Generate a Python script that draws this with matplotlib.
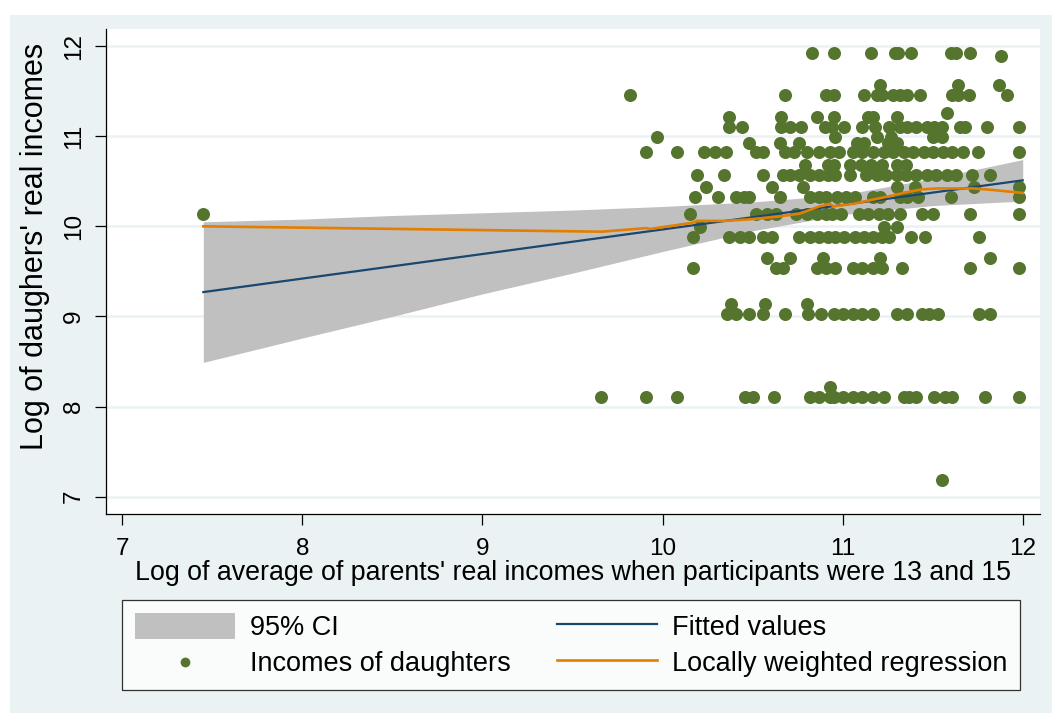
import numpy as np
import matplotlib.pyplot as plt
from matplotlib.patches import Rectangle

plt.rcParams['font.family'] = ['Liberation Sans', 'DejaVu Sans']

# kolory w stylu Stata s2color
TLO = '#EAF2F3'
ZIELONY = '#55752F'
GRANAT = '#1A476F'
POMARANCZ = '#E37E00'
SZARY = '#C0C0C0'

# --- dane: dochody córek, pogrupowane po poziomach osi y ---
poziomy_y = [11.92, 11.89, 11.57, 11.46, 11.26, 11.21, 11.10, 10.99, 10.92, 10.82,
             10.68, 10.57, 10.44, 10.33, 10.14, 9.99, 9.88, 9.65, 9.54, 9.14,
             9.03, 8.22, 8.11, 7.19]

x_1192 = [10.83, 10.95, 11.16, 11.29, 11.31, 11.38, 11.60, 11.63, 11.71]
x_1189 = [11.88]
x_1157 = [11.21, 11.64, 11.87]
x_1146 = [9.82, 10.68, 10.91, 10.95, 11.12, 11.19, 11.22, 11.28, 11.32, 11.36,
          11.43, 11.61, 11.64, 11.70, 11.91]
x_1126 = [11.58]
x_1121 = [10.37, 10.66, 10.86, 10.95, 11.14, 11.17, 11.30]
x_1110 = [10.37, 10.44, 10.66, 10.71, 10.77, 10.90, 10.94, 11.01, 11.11, 11.18,
          11.26, 11.32, 11.36, 11.41, 11.47, 11.51, 11.55, 11.65, 11.68, 11.80, 11.98]
x_1099 = [9.97, 10.96, 11.19, 11.27, 11.50, 11.55]
x_1092 = [10.48, 10.65, 10.76, 11.08, 11.12, 11.25, 11.30]
x_1082 = [9.91, 10.08, 10.23, 10.29, 10.35, 10.52, 10.56, 10.68, 10.73, 10.80,
          10.87, 10.93, 10.98, 11.06, 11.11, 11.17, 11.23, 11.28, 11.34, 11.39,
          11.45, 11.50, 11.56, 11.61, 11.67, 11.75, 11.98]
x_1068 = [10.79, 10.92, 10.95, 11.04, 11.10, 11.16, 11.22, 11.30, 11.35]
x_1057 = [10.19, 10.34, 10.56, 10.67, 10.71, 10.76, 10.82, 10.87, 10.92, 10.96,
          11.04, 11.13, 11.19, 11.24, 11.30, 11.35, 11.41, 11.47, 11.52, 11.58,
          11.63, 11.72, 11.82]
x_1044 = [10.24, 10.61, 10.78, 11.30, 11.40, 11.73, 11.98]
x_1033 = [10.18, 10.31, 10.41, 10.45, 10.48, 10.65, 10.82, 10.87, 10.91, 10.97,
          11.02, 11.07, 11.17, 11.21, 11.32, 11.36, 11.42, 11.60, 11.98]
x_1014 = [7.45, 10.15, 10.52, 10.58, 10.63, 10.74, 10.80, 10.86, 10.91, 10.94,
          10.99, 11.09, 11.14, 11.20, 11.25, 11.32, 11.44, 11.50, 11.71, 11.98]
x_999 = [10.21, 11.23, 11.30]
x_988 = [10.17, 10.37, 10.43, 10.48, 10.56, 10.61, 10.76, 10.82, 10.87, 10.92,
         10.96, 11.01, 11.07, 11.12, 11.17, 11.22, 11.26, 11.38, 11.46, 11.76]
x_965 = [10.58, 10.71, 10.89, 11.21, 11.82]
x_954 = [10.17, 10.63, 10.67, 10.86, 10.91, 10.96, 11.06, 11.11, 11.17, 11.22,
         11.33, 11.71, 11.98]
x_914 = [10.38, 10.57, 10.80]
x_903 = [10.36, 10.41, 10.48, 10.56, 10.68, 10.81, 10.88, 10.95, 11.00, 11.06,
         11.11, 11.17, 11.30, 11.36, 11.44, 11.48, 11.53, 11.76, 11.82]
x_822 = [10.93]
x_811 = [9.66, 9.91, 10.08, 10.46, 10.50, 10.62, 10.82, 10.87, 10.93, 10.95,
         11.00, 11.06, 11.11, 11.17, 11.23, 11.34, 11.37, 11.41, 11.51, 11.57,
         11.61, 11.79, 11.98]
x_719 = [11.55]

wiersze_x = [x_1192, x_1189, x_1157, x_1146, x_1126, x_1121, x_1110, x_1099,
             x_1092, x_1082, x_1068, x_1057, x_1044, x_1033, x_1014, x_999,
             x_988, x_965, x_954, x_914, x_903, x_822, x_811, x_719]

# prosta dopasowana
fit_x = [7.45, 12.0]
fit_y = [9.27, 10.51]

# 95% przedział ufności
ci_x = [7.45, 8.0, 8.5, 9.0, 9.5, 10.0, 10.5, 11.0, 11.5, 12.0]
ci_lo = [8.49, 8.76, 9.00, 9.25, 9.48, 9.72, 9.95, 10.13, 10.23, 10.28]
ci_hi = [10.05, 10.08, 10.12, 10.15, 10.18, 10.22, 10.27, 10.35, 10.53, 10.74]

# regresja lokalnie ważona (lowess)
low_x = [7.45, 9.66, 9.91, 9.93, 10.17, 10.19, 10.35, 10.50, 10.65, 10.76, 10.87,
         10.93, 10.95, 11.06, 11.25, 11.36, 11.44, 11.53, 11.73, 11.85, 12.0]
low_y = [10.00, 9.94, 9.98, 9.97, 10.04, 10.06, 10.06, 10.08, 10.11, 10.14, 10.22,
         10.25, 10.22, 10.25, 10.33, 10.38, 10.41, 10.42, 10.42, 10.40, 10.37]

xs = np.concatenate([np.array(w) for w in wiersze_x])
ys = np.concatenate([np.full(len(w), p) for w, p in zip(wiersze_x, poziomy_y)])

W, H = 1052, 713
fig = plt.figure(figsize=(W / 100, H / 100), dpi=100)
fig.patch.set_facecolor('white')
fig.add_artist(Rectangle((10 / W, 0), 1 - 10 / W, 698 / H, transform=fig.transFigure,
                         facecolor=TLO, edgecolor='none', zorder=0))

ax = fig.add_axes([105.7 / W, (H - 514) / H, (1040 - 105.7) / W, (514 - 29) / H])
ax.set_facecolor('white')
ax.set_xlim(6.908, 12.096)
ax.set_ylim(6.808, 12.189)

ci = ax.fill_between(ci_x, ci_lo, ci_hi, color=SZARY, linewidth=0, label='95% CI', zorder=2)
sc = ax.scatter(xs, ys, s=88, color=ZIELONY, linewidths=0, label='Incomes of daughters', zorder=3)
lf, = ax.plot(fit_x, fit_y, color=GRANAT, lw=1.6, label='Fitted values', zorder=4)
ll, = ax.plot(low_x, low_y, color=POMARANCZ, lw=1.9, label='Locally weighted regression', zorder=5)

ax.set_xticks([7, 8, 9, 10, 11, 12])
ax.set_yticks([7, 8, 9, 10, 11, 12])
ax.grid(axis='y', color=TLO, lw=1.8)
ax.set_axisbelow(True)
for s in ['top', 'right']:
    ax.spines[s].set_visible(False)
for s in ['left', 'bottom']:
    ax.spines[s].set_color('black')
    ax.spines[s].set_linewidth(0.9)
ax.tick_params(direction='out', length=8, width=0.9, labelsize=17.5, colors='black')
ax.tick_params(axis='x', pad=9)
ax.tick_params(axis='y', pad=7)
for t in ax.get_yticklabels():
    t.set_rotation(90)
    t.set_va('center')

ax.set_xlabel("Log of average of parents' real incomes when participants were 13 and 15",
              fontsize=19.3, labelpad=0)
ax.set_ylabel("Log of daughers' real incomes", fontsize=22)
ax.yaxis.set_label_coords(-71 / (1040 - 105.7), (514 - 246) / (514 - 29))
ax.yaxis.label.set_va('center')

leg = fig.legend([ci, sc, lf, ll],
                 ['95% CI', 'Incomes of daughters', 'Fitted values', 'Locally weighted regression'],
                 ncol=2, loc='upper left',
                 bbox_to_anchor=(122 / W, 1 - 688 / H, 898 / W, 88 / H), mode='expand',
                 fontsize=19.5, frameon=True, fancybox=False, edgecolor='black',
                 handlelength=3.7, handleheight=1.1, handletextpad=0.55,
                 columnspacing=1.6, borderpad=0.47, labelspacing=0.3,
                 borderaxespad=0, markerscale=0.75)
leg.get_frame().set_linewidth(0.9)

fig.savefig('out.png', dpi=100, facecolor=fig.get_facecolor())
